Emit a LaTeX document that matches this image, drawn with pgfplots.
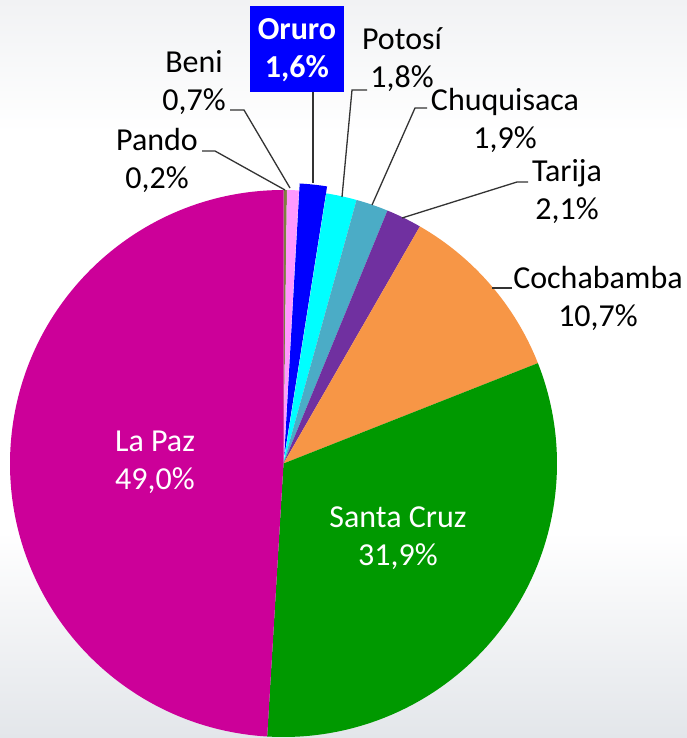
\documentclass[border=0pt]{standalone}
\usepackage{pgfplots}
\pgfplotsset{compat=1.18}
\usepackage{pgfplotstable}
\usepackage{fontspec}
\setmainfont{Carlito}

\definecolor{pc0}{HTML}{7F7F3F}% Pando
\definecolor{pc1}{HTML}{FF99FF}% Beni
\definecolor{pc2}{HTML}{0000FF}% Oruro
\definecolor{pc3}{HTML}{00FFFF}% Potosi
\definecolor{pc4}{HTML}{4BACC6}% Chuquisaca
\definecolor{pc5}{HTML}{7030A0}% Tarija
\definecolor{pc6}{HTML}{F79646}% Cochabamba
\definecolor{pc7}{HTML}{009900}% Santa Cruz
\definecolor{pc8}{HTML}{CC0099}% La Paz
\definecolor{bgtop}{HTML}{F1F2F4}
\definecolor{bgbot}{HTML}{E3E6EA}
\definecolor{leader}{HTML}{333333}

% shading: 25bp = bottom of the picture, 75bp = top
\pgfdeclareverticalshading{bgshade}{100bp}{%
  color(0bp)=(bgbot); color(25bp)=(bgbot); color(39bp)=(white);
  color(66bp)=(white); color(75bp)=(bgtop); color(100bp)=(bgtop)}

% share of each department, clockwise from 12 o'clock
\pgfplotstableread{
name value
Pando 0.2
Beni 0.7
Oruro 1.6
Potosi 1.8
Chuquisaca 1.9
Tarija 2.1
Cochabamba 10.7
SantaCruz 31.9
LaPaz 49.0
}\pietable

\begin{document}
\begin{tikzpicture}[lbl/.style={align=center,font=\fontsize{32}{38}\selectfont}]
\begin{axis}[
  width=687pt,height=738pt,scale only axis,
  xmin=0,xmax=687,ymin=0,ymax=738,y dir=reverse,
  hide axis,clip=false]
\fill[shading=bgshade] (axis cs:0,0) rectangle (axis cs:687,738);

\def\cum{0}
\pgfplotsforeachungrouped \i in {0,...,8}{%
  \pgfplotstablegetelem{\i}{value}\of\pietable
  \let\v\pgfplotsretval
  \pgfmathsetmacro\phiA{90-\cum/99.9*360}
  \pgfmathsetmacro\dang{-\v/99.9*360}
  \pgfmathsetmacro\mid{\phiA+\dang/2}
  \ifnum\i=2 \def\ex{7}\else\def\ex{0}\fi
  \edef\temp{\noexpand\fill[pc\i,shift={(\mid:\ex pt)}]
    (axis cs:283.5,463.5) -- +(\phiA:273.5pt)
    arc[start angle=\phiA,delta angle=\dang,radius=273.5pt] -- cycle;}
  \temp
  \pgfmathsetmacro\cum{\cum+\v}
}

% leader lines
\draw[leader,line width=1.3pt] (axis cs:202,151) -- (axis cs:215,151) -- (axis cs:285,190);
\draw[leader,line width=1.3pt] (axis cs:230,110) -- (axis cs:244,110) -- (axis cs:290,188);
\draw[leader,line width=1.3pt] (axis cs:313,92) -- (axis cs:313,183);
\draw[leader,line width=1.3pt] (axis cs:367,90) -- (axis cs:352,90) -- (axis cs:342,197);
\draw[leader,line width=1.3pt] (axis cs:427,108) -- (axis cs:415,108) -- (axis cs:372,205);
\draw[leader,line width=1.3pt] (axis cs:528,182) -- (axis cs:517,182) -- (axis cs:402,218);
\draw[leader,line width=1.3pt] (axis cs:512,288) -- (axis cs:492,288);

% labels
\node[lbl] at (axis cs:157,160) {Pando\\0,2\%};
\node[lbl] at (axis cs:194,83) {Beni\\0,7\%};
\fill[pc2] (axis cs:250,6) rectangle (axis cs:344,92);
\node[lbl,text=white,font=\fontsize{32}{38}\selectfont\bfseries] at (axis cs:297,50) {Oruro\\1,6\%};
\node[lbl] at (axis cs:402,60) {Potosí\\1,8\%};
\node[lbl] at (axis cs:505,120) {Chuquisaca\\1,9\%};
\node[lbl] at (axis cs:567,192) {Tarija\\2,1\%};
\node[lbl] at (axis cs:598,298) {Cochabamba\\10,7\%};
\node[lbl,text=white] at (axis cs:155,462) {La Paz\\49,0\%};
\node[lbl,text=white] at (axis cs:398,538) {Santa Cruz\\31,9\%};
\end{axis}
\pgfresetboundingbox
\useasboundingbox (0,0) rectangle (687pt,738pt);
\end{tikzpicture}
\end{document}
